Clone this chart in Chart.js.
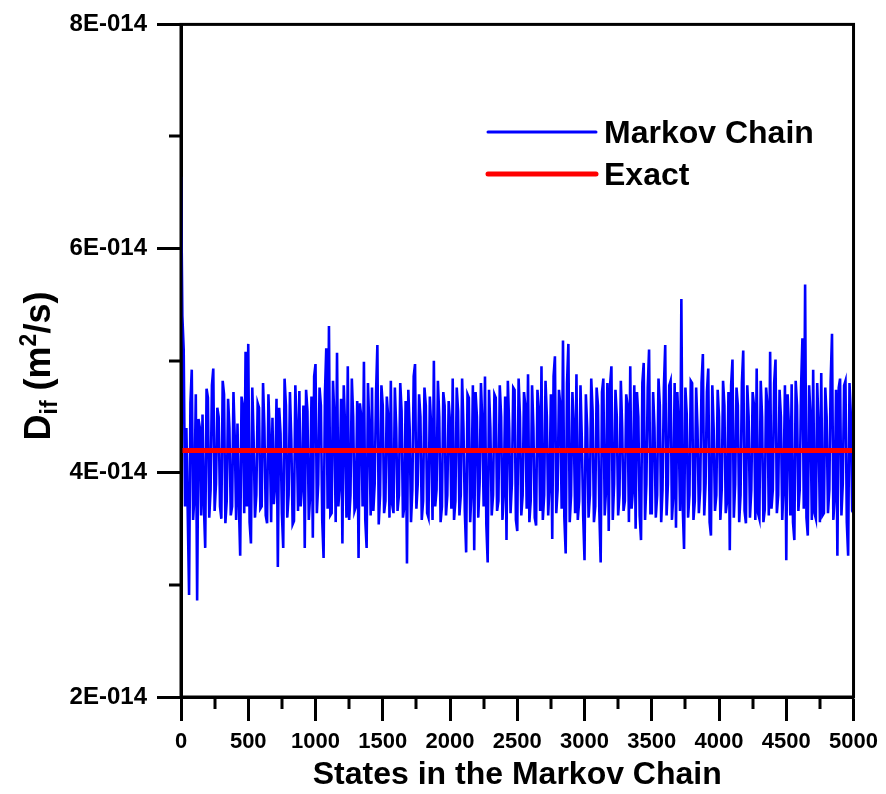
<!DOCTYPE html>
<html>
<head>
<meta charset="utf-8">
<script src="https://cdn.jsdelivr.net/npm/chart.js@4.4.1/dist/chart.umd.min.js"></script>
<style>
  html, body { margin: 0; padding: 0; background: #fff; }
  #wrap { width: 886px; height: 794px; }
</style>
</head>
<body>
<div id="wrap"><canvas id="chart" width="886" height="794"></canvas></div>
<script>
// ─── DATA (D_if in units of 1E-014 m²/s) ─────────────────────
const SAMPLE_STEP = 10;   // one sample every 10 states
const markovValues = [
  6.64, 5.40, 5.10, 3.70, 4.40, 3.65, 2.91, 4.62, 4.92, 3.58, 3.80, 4.70, 2.86, 4.48, 4.40, 3.62, 4.52, 3.72, 3.33, 4.75,
  4.67, 3.60, 3.85, 4.78, 4.93, 3.66, 3.90, 4.58, 4.50, 3.70, 3.59, 4.82, 4.70, 3.55, 3.75, 4.66, 4.40, 3.62, 3.70, 4.72,
  4.30, 3.58, 4.44, 3.74, 3.26, 4.68, 4.60, 3.64, 5.08, 3.70, 5.15, 3.56, 3.37, 4.76, 4.30, 3.60, 3.80, 4.62, 4.58, 3.68,
  3.70, 4.80, 4.40, 3.62, 3.55, 4.70, 4.30, 3.56, 4.49, 3.72, 3.90, 4.66, 3.16, 4.58, 4.35, 3.64, 3.33, 4.84, 4.60, 3.60,
  3.80, 4.72, 4.30, 3.54, 3.57, 4.78, 4.40, 3.66, 4.73, 3.70, 3.90, 4.60, 3.33, 4.74, 4.55, 3.58, 3.80, 4.68, 3.42, 4.86,
  4.97, 3.64, 3.90, 4.76, 4.60, 3.58, 3.24, 4.70, 5.11, 3.68, 5.31, 3.62, 3.64, 4.82, 4.50, 3.56, 5.07, 3.70, 3.90, 4.66,
  3.37, 4.78, 4.40, 3.60, 4.95, 3.58, 3.80, 4.84, 4.50, 3.66, 3.70, 4.64, 3.24, 4.62, 4.50, 3.70, 4.99, 3.58, 3.33, 4.80,
  4.40, 3.62, 4.76, 3.66, 3.90, 4.70, 5.14, 3.54, 3.80, 4.78, 4.60, 3.64, 3.75, 4.68, 4.50, 3.60, 4.82, 3.72, 3.64, 4.76,
  4.40, 3.66, 3.80, 4.80, 4.55, 3.60, 3.70, 4.64, 3.19, 4.74, 4.40, 3.56, 3.85, 4.86, 4.97, 3.68, 3.90, 4.70, 4.50, 3.58,
  3.75, 4.76, 4.60, 3.64, 3.60, 4.68, 4.40, 3.58, 5.00, 3.70, 3.85, 4.82, 4.50, 3.56, 3.70, 4.72, 4.60, 3.62, 3.80, 4.64,
  4.45, 3.68, 4.84, 3.58, 3.75, 4.76, 4.55, 3.62, 3.80, 4.84, 4.40, 3.66, 3.29, 4.70, 4.67, 3.56, 3.85, 4.78, 3.31, 4.72,
  4.50, 3.60, 3.90, 4.80, 4.45, 3.70, 4.86, 3.54, 3.20, 4.74, 4.40, 3.62, 3.80, 4.70, 4.67, 3.66, 3.75, 4.78, 4.50, 3.58,
  3.85, 4.68, 3.40, 4.82, 4.40, 3.64, 3.90, 4.76, 4.74, 3.58, 3.48, 4.84, 4.50, 3.62, 3.80, 4.72, 4.60, 3.68, 4.88, 3.56,
  3.75, 4.78, 4.40, 3.60, 3.53, 4.74, 4.55, 3.66, 4.95, 3.58, 3.80, 4.82, 4.50, 3.62, 3.90, 4.70, 3.41, 4.86, 5.04, 3.64,
  3.85, 4.74, 4.60, 3.68, 5.18, 3.60, 3.28, 4.80, 5.15, 3.56, 3.80, 4.72, 4.40, 3.64, 4.88, 3.58, 3.75, 4.78, 4.30, 3.62,
  3.22, 4.70, 4.40, 3.60, 3.80, 4.84, 4.55, 3.56, 3.70, 4.76, 4.60, 3.66, 3.20, 4.72, 4.84, 3.62, 3.85, 4.80, 3.48, 4.78,
  4.95, 3.58, 3.90, 4.74, 4.50, 3.62, 3.80, 4.82, 4.40, 3.66, 3.75, 4.70, 4.60, 3.56, 4.95, 3.68, 3.85, 4.78, 3.50, 4.72,
  4.50, 3.62, 3.40, 4.80, 4.98, 3.58, 3.90, 4.76, 5.10, 3.64, 3.64, 4.72, 4.40, 3.60, 3.80, 4.84, 4.60, 3.56, 3.85, 4.76,
  5.14, 3.62, 3.90, 4.78, 4.82, 3.58, 3.80, 4.80, 3.51, 4.72, 4.40, 3.66, 5.55, 3.70, 3.32, 4.76, 4.52, 3.60, 3.80, 4.82,
  4.80, 3.58, 3.75, 4.76, 4.40, 3.64, 3.85, 4.80, 5.06, 3.62, 3.90, 4.72, 4.93, 3.56, 3.44, 4.78, 4.40, 3.66, 3.80, 4.74,
  4.50, 3.58, 3.85, 4.82, 4.60, 3.64, 3.75, 4.72, 3.31, 4.78, 5.01, 3.60, 3.90, 4.76, 4.60, 3.56, 3.80, 4.80, 5.09, 3.66,
  3.55, 4.78, 4.50, 3.60, 3.85, 4.72, 4.60, 3.58, 4.93, 3.64, 3.59, 4.82, 4.50, 3.56, 3.67, 4.76, 4.60, 3.62, 5.08, 3.68,
  3.85, 4.80, 5.01, 3.64, 3.80, 4.74, 4.50, 3.58, 3.90, 4.78, 3.22, 4.70, 4.40, 3.62, 4.79, 3.56, 3.40, 4.82, 4.60, 3.66,
  3.85, 4.76, 5.20, 3.68, 5.68, 3.60, 3.44, 4.78, 4.50, 3.58, 4.92, 3.64, 3.59, 4.80, 4.40, 3.56, 4.89, 3.62, 3.64, 4.76,
  4.50, 3.64, 3.85, 4.82, 5.24, 3.58, 3.80, 4.74, 3.26, 4.76, 4.84, 3.62, 3.90, 4.78, 4.82, 3.56, 3.26, 4.80, 4.51, 3.66,
  3.64
];
const exactValue = 4.2;
const exactStates = [0, 5000];

const xMajorTicks = [0, 500, 1000, 1500, 2000, 2500, 3000, 3500, 4000, 4500, 5000];
const xMinorTicks = [250, 750, 1250, 1750, 2250, 2750, 3250, 3750, 4250, 4750];
const yMajorTicks = [2, 4, 6, 8];
const yMinorTicks = [3, 5, 7];

const E14 = 1e-14;
const FONT = "'Liberation Sans', Arial, sans-serif";

// ─── PLUGINS ─────────────────────────────────────────────────
const framePlugin = {
  id: 'frame',
  afterDraw(chart) {
    const { ctx, chartArea: a, scales } = chart;
    ctx.save();
    ctx.strokeStyle = '#000';
    ctx.lineWidth = 3;
    ctx.strokeRect(a.left, a.top, a.right - a.left, a.bottom - a.top);

    // minor ticks (outside)
    ctx.beginPath();
    xMinorTicks.forEach(v => {
      const px = Math.round(scales.x.getPixelForValue(v));
      ctx.moveTo(px, a.bottom);
      ctx.lineTo(px, a.bottom + 12);
    });
    yMinorTicks.forEach(v => {
      const py = Math.round(scales.y.getPixelForValue(v * E14));
      ctx.moveTo(a.left, py);
      ctx.lineTo(a.left - 12, py);
    });
    ctx.stroke();
    ctx.restore();
  }
};

const yTitlePlugin = {
  id: 'yTitle',
  afterDraw(chart) {
    const { ctx } = chart;
    const parts = [
      { t: 'D', size: 36, dy: 0 },
      { t: 'if', size: 23, dy: 7 },
      { t: ' (m', size: 36, dy: 0 },
      { t: '2', size: 23, dy: -14 },
      { t: '/s)', size: 36, dy: 0 }
    ];
    ctx.save();
    let total = 0;
    parts.forEach(p => {
      ctx.font = `bold ${p.size}px ${FONT}`;
      p.w = ctx.measureText(p.t).width;
      total += p.w;
    });
    ctx.translate(50, 366 + total / 2);
    ctx.rotate(-Math.PI / 2);
    ctx.fillStyle = '#000';
    ctx.textBaseline = 'alphabetic';
    ctx.textAlign = 'left';
    let x = 0;
    parts.forEach(p => {
      ctx.font = `bold ${p.size}px ${FONT}`;
      ctx.fillText(p.t, x, p.dy);
      x += p.w;
    });
    ctx.restore();
  }
};

const legendPlugin = {
  id: 'boxLegend',
  afterDraw(chart) {
    const { ctx } = chart;
    ctx.save();
    ctx.font = `bold 32px ${FONT}`;
    ctx.fillStyle = '#000';
    ctx.textBaseline = 'alphabetic';
    chart.data.datasets.forEach((ds, i) => {
      const y = 132 + i * 42;
      ctx.strokeStyle = ds.borderColor;
      ctx.lineWidth = ds.legendWidth;
      ctx.lineCap = 'round';
      ctx.beginPath();
      ctx.moveTo(488, y);
      ctx.lineTo(596, y);
      ctx.stroke();
      ctx.fillText(ds.label, 604, y + 11);
    });
    ctx.restore();
  }
};

// ─── CHART ───────────────────────────────────────────────────
const markovPoints = markovValues.map((v, i) => ({ x: i * SAMPLE_STEP, y: v * E14 }));
const exactPoints = exactStates.map(s => ({ x: s, y: exactValue * E14 }));

const tickFont = size => ({ family: FONT, size, weight: 'bold' });

new Chart(document.getElementById('chart').getContext('2d'), {
  type: 'line',
  data: {
    datasets: [
      {
        label: 'Markov Chain',
        data: markovPoints,
        borderColor: '#0000ff',
        borderWidth: 2.6,
        legendWidth: 3,
        pointRadius: 0,
        tension: 0,
        order: 1
      },
      {
        label: 'Exact',
        data: exactPoints,
        borderColor: '#ff0000',
        borderWidth: 5,
        legendWidth: 5,
        pointRadius: 0,
        order: 0
      }
    ]
  },
  options: {
    responsive: false,
    animation: false,
    devicePixelRatio: 1,
    layout: { padding: { top: 22, right: 31, left: 0, bottom: 0 } },
    plugins: {
      legend: { display: false },
      tooltip: { enabled: false }
    },
    scales: {
      x: {
        type: 'linear',
        min: 0,
        max: 5000,
        afterBuildTicks: s => { s.ticks = xMajorTicks.map(v => ({ value: v })); },
        afterFit: s => { s.height = 97; },
        border: { color: '#000', width: 3 },
        grid: { drawOnChartArea: false, drawTicks: true, tickLength: 24, tickWidth: 3, tickColor: '#000' },
        ticks: {
          color: '#000',
          font: tickFont(22),
          padding: 8,
          maxRotation: 0,
          autoSkip: false,
          callback: v => String(v)
        },
        title: {
          display: true,
          text: 'States in the Markov Chain',
          color: '#000',
          font: { family: FONT, size: 32, weight: 'bold', lineHeight: 1.1 },
          padding: { top: 0, bottom: 1 }
        }
      },
      y: {
        type: 'linear',
        min: 2 * E14,
        max: 8 * E14,
        afterBuildTicks: s => { s.ticks = yMajorTicks.map(v => ({ value: v * E14 })); },
        afterFit: s => { s.width = 181; },
        border: { color: '#000', width: 3 },
        grid: { drawOnChartArea: false, drawTicks: true, tickLength: 24, tickWidth: 3, tickColor: '#000' },
        ticks: {
          color: '#000',
          font: tickFont(24),
          padding: 10,
          callback: v => Math.round(v / E14) + 'E-014'
        }
      }
    }
  },
  plugins: [framePlugin, yTitlePlugin, legendPlugin]
});
</script>
</body>
</html>
